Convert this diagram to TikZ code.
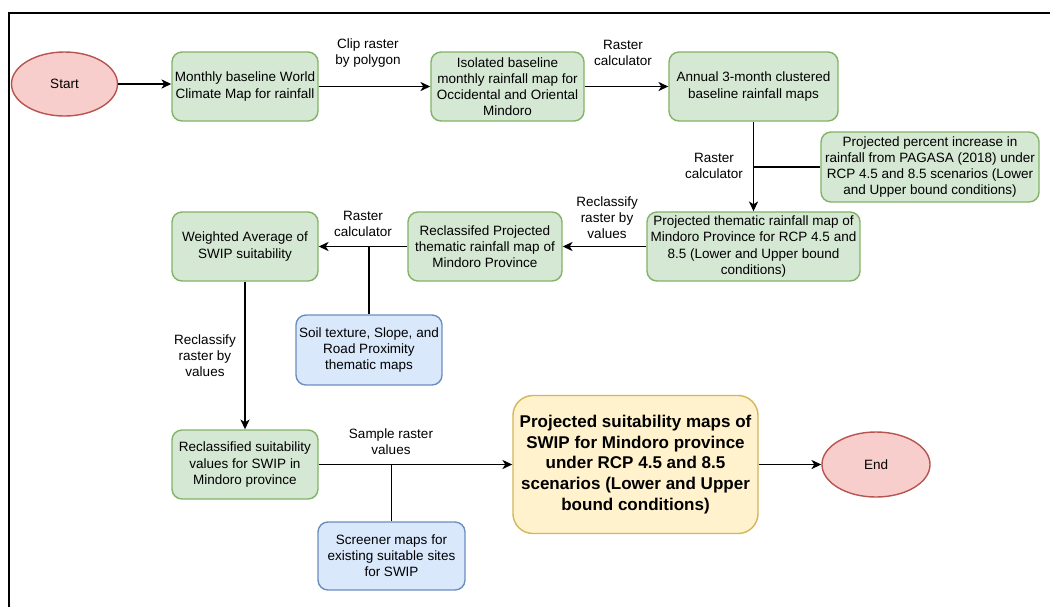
\documentclass[tikz,border=0pt]{standalone}
\usepackage{fontspec}
\setmainfont{Liberation Sans}
\usetikzlibrary{shapes.geometric,arrows.meta}

\definecolor{greenfill}{HTML}{D5E8D4}
\definecolor{greenline}{HTML}{82B366}
\definecolor{bluefill}{HTML}{DAE8FC}
\definecolor{blueline}{HTML}{6C8EBF}
\definecolor{redfill}{HTML}{F8CECC}
\definecolor{redline}{HTML}{B85450}
\definecolor{yellowfill}{HTML}{FFF2CC}
\definecolor{yellowline}{HTML}{D6B656}

\begin{document}
\begin{tikzpicture}[
    x=0.025cm, y=-0.025cm,
    box/.style={rectangle, rounded corners=0.25cm, draw=greenline, fill=greenfill, line width=1pt,
        minimum width=3.65cm, minimum height=1.725cm, inner sep=1pt, align=center,
        font=\fontsize{9.6}{11.4}\selectfont},
    inputbox/.style={box, draw=blueline, fill=bluefill, minimum height=1.75cm},
    resultbox/.style={box, draw=yellowline, fill=yellowfill, rounded corners=0.5cm,
        minimum width=6.125cm, minimum height=3.45cm, font=\fontsize{12.1}{14.7}\selectfont\bfseries},
    terminal/.style={ellipse, draw=redline, fill=redfill, line width=1pt,
        minimum width=2.65cm, minimum height=1.6cm, inner sep=0pt, font=\fontsize{9.6}{11.4}\selectfont},
    lbl/.style={align=center, inner sep=1pt, font=\fontsize{9.6}{11.4}\selectfont},
    arrow/.style={->, line width=1pt, >={Stealth[length=7pt, width=6.5pt, inset=2pt]}},
    joint/.style={line width=1pt}
]

\useasboundingbox (0,0) rectangle (1050,607);

% Frame
\draw[line width=1.5pt] (9,607) -- (9,13) -- (1050,13);

% Top row
\node[terminal] (start) at (64.5,84) {Start};
\node[box] (climate) at (245,86.5) {Monthly baseline World\\Climate Map for rainfall};
\node[box, minimum width=3.825cm] (isolated) at (507.5,86.5) {Isolated baseline\\monthly rainfall map for\\Occidental and Oriental\\Mindoro};
\node[box, minimum width=4.225cm] (clustered) at (753.5,86.5) {Annual 3-month clustered\\baseline rainfall maps};

% Projection inputs
\node[box, minimum width=5.45cm, minimum height=1.75cm] (pagasa) at (930,167) {Projected percent increase in\\rainfall from PAGASA (2018) under\\RCP 4.5 and 8.5 scenarios (Lower\\and Upper bound conditions)};
\node[box, minimum width=5.325cm] (thematic) at (753.5,246.5) {Projected thematic rainfall map of\\Mindoro Province for RCP 4.5 and\\8.5 (Lower and Upper bound\\conditions)};
\node[box, minimum width=3.85cm] (reclass) at (485,246.5) {Reclassifed Projected\\thematic rainfall map of\\Mindoro Province};
\node[box] (weighted) at (245,246.5) {Weighted Average of\\SWIP suitability};
\node[inputbox] (soil) at (369,350) {Soil texture, Slope, and\\Road Proximity\\thematic maps};

% Bottom row
\node[box] (suit) at (245,464.5) {Reclassified suitability\\values for SWIP in\\Mindoro province};
\node[inputbox, minimum width=3.675cm, minimum height=1.7cm] (screener) at (391.5,556) {Screener maps for\\existing suitable sites\\for SWIP};
\node[resultbox] (final) at (635.5,464.5) {Projected suitability maps of\\SWIP for Mindoro province\\under RCP 4.5 and 8.5\\scenarios (Lower and Upper\\bound conditions)};
\node[terminal, minimum width=2.7cm, minimum height=1.625cm] (end) at (876,464.5) {End};

% Labels
\node[lbl] (clip) at (368,53) {Clip raster\\by polygon};
\node[lbl] (calc1) at (623,53) {Raster\\calculator};
\node[lbl] (calc2) at (714,166) {Raster\\calculator};
\node[lbl] (recl1) at (607,218) {Reclassify\\raster by\\values};
\node[lbl] (calc3) at (363,224) {Raster\\calculator};
\node[lbl] (recl2) at (205,356) {Reclassify\\raster by\\values};
\node[lbl] (sample) at (391,442) {Sample raster\\values};

% Arrows
\draw[arrow] (start.east) -- (start.east -| climate.west);
\draw[arrow] (climate) -- (isolated);
\draw[arrow] (isolated) -- (clustered);
\draw[arrow] (clustered) -- (thematic);
\draw[joint] (pagasa.west) -- (pagasa.west -| clustered.south);
\draw[arrow] (thematic) -- (reclass);
\draw[arrow] (reclass) -- (weighted);
\draw[joint] (soil.north) -- (soil.north |- reclass.west);
\draw[arrow] (weighted) -- (suit);
\draw[arrow] (suit) -- (final);
\draw[joint] (screener.north) -- (screener.north |- suit.east);
\draw[arrow] (final) -- (end);

\end{tikzpicture}
\end{document}
